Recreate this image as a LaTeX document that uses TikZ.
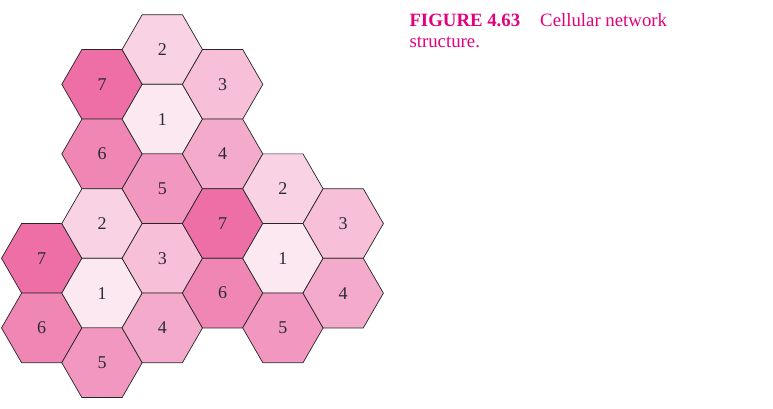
\documentclass[tikz,border=0pt]{standalone}
\usepackage{fontspec}
\setmainfont{Liberation Serif}
\usetikzlibrary{shapes.geometric}
\definecolor{c1}{HTML}{FCE8F1}
\definecolor{c2}{HTML}{F9D3E4}
\definecolor{c3}{HTML}{F7C0D8}
\definecolor{c4}{HTML}{F4ABCB}
\definecolor{c5}{HTML}{F297C0}
\definecolor{c6}{HTML}{EF86B4}
\definecolor{c7}{HTML}{EE6FA6}
\definecolor{capcol}{RGB}{228,0,124}
\definecolor{numcol}{HTML}{2A2A3A}
\begin{document}
\begin{tikzpicture}[x=1pt,y=-1pt,
  hexcell/.style={regular polygon, regular polygon sides=6, minimum size=80.4pt,
    inner sep=0pt, draw=black!85, line width=0.7pt, text=numcol,
    font=\fontsize{18}{18}\selectfont},
  captext/.style={anchor=base west, inner sep=0pt, text=capcol,
    font=\fontsize{18.8}{21}\selectfont}]
\useasboundingbox (0,0) rectangle (773,408);
% column 0
\foreach \k/\n in {3/7,4/6}
  \node[hexcell, fill=c\n] (h0-\k) at (41.7, 49.5+\k*69.6) {\n};
% column 1
\foreach \k/\n in {0/7,1/6,2/2,3/1,4/5}
  \node[hexcell, fill=c\n] (h1-\k) at (102.0, 84.3+\k*69.6) {\n};
% column 2
\foreach \k/\n in {0/2,1/1,2/5,3/3,4/4}
  \node[hexcell, fill=c\n] (h2-\k) at (162.3, 49.5+\k*69.6) {\n};
% column 3
\foreach \k/\n in {0/3,1/4,2/7,3/6}
  \node[hexcell, fill=c\n] (h3-\k) at (222.6, 84.3+\k*69.6) {\n};
% column 4
\foreach \k/\n in {2/2,3/1,4/5}
  \node[hexcell, fill=c\n] (h4-\k) at (282.9, 49.5+\k*69.6) {\n};
% column 5
\foreach \k/\n in {2/3,3/4}
  \node[hexcell, fill=c\n] (h5-\k) at (343.2, 84.3+\k*69.6) {\n};
% caption
\node[captext] (cap1) at (409.3,26.7) {\textbf{FIGURE 4.63}\hspace{20pt}Cellular network};
\node[captext] (cap2) at (409.3,47.7) {structure.};
\end{tikzpicture}
\end{document}
